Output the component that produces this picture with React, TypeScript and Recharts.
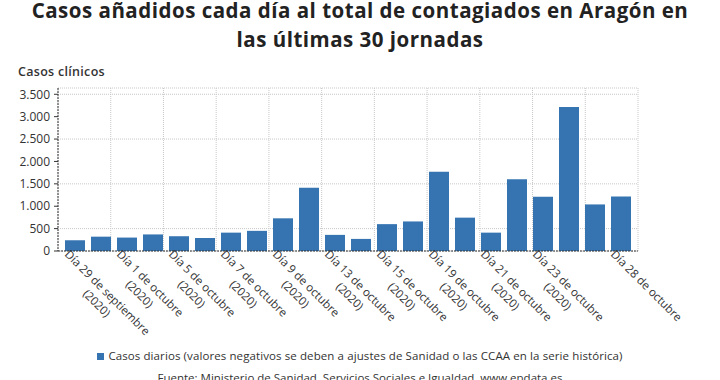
import { Bar, BarChart, CartesianGrid, XAxis, YAxis } from 'recharts'

const dias = [
  'Día 29 de septiembre',
  'Día 30 de septiembre',
  'Día 1 de octubre',
  'Día 2 de octubre',
  'Día 5 de octubre',
  'Día 6 de octubre',
  'Día 7 de octubre',
  'Día 8 de octubre',
  'Día 9 de octubre',
  'Día 12 de octubre',
  'Día 13 de octubre',
  'Día 14 de octubre',
  'Día 15 de octubre',
  'Día 16 de octubre',
  'Día 19 de octubre',
  'Día 20 de octubre',
  'Día 21 de octubre',
  'Día 22 de octubre',
  'Día 23 de octubre',
  'Día 26 de octubre',
  'Día 27 de octubre',
  'Día 28 de octubre',
]
const casos = [240, 320, 300, 370, 330, 290, 410, 450, 730, 1410, 360, 270, 600, 660, 1770, 745, 410, 1600, 1210, 3215, 1040, 1215]
const diasConEtiqueta = [0, 2, 4, 6, 8, 10, 12, 14, 16, 18, 21]
const anio = '(2020)'
const ticksY = [0, 500, 1000, 1500, 2000, 2500, 3000, 3500]

const datos = dias.map((dia, i) => ({ dia, casos: casos[i] }))

const AZUL = '#3574B1'
const TEXTO = '#333333'
const FUENTE = '"Open Sans", sans-serif'

let ctx: CanvasRenderingContext2D | null = null
function medir(texto: string) {
  if (!ctx) ctx = document.createElement('canvas').getContext('2d')
  if (!ctx) return texto.length * 6
  ctx.font = `11.5px "Open Sans"`
  return ctx.measureText(texto).width
}

const miles = (v: number) => String(v).replace(/\B(?=(\d{3})+(?!\d))/g, '.')

function EtiquetaDia(props: any) {
  const { x, y, payload, index } = props
  if (!diasConEtiqueta.includes(index)) return <g />
  const linea1 = String(payload.value)
  const linea2 = index === dias.length - 1 ? '' : anio
  const w = medir(linea1)
  return (
    <g transform={`translate(${x - 11},${y - 4}) rotate(45)`}>
      <text fill={TEXTO} fontFamily={FUENTE} fontSize={11.5} textAnchor="middle">
        <tspan x={w / 2} dy={0}>
          {linea1}
        </tspan>
        {linea2 && (
          <tspan x={w / 2} dy={15}>
            {linea2}
          </tspan>
        )}
      </text>
    </g>
  )
}

const estiloTitulo = {
  position: 'absolute' as const,
  left: 0,
  width: 720,
  textAlign: 'center' as const,
  fontWeight: 700,
  fontSize: 20.5,
  lineHeight: '18px',
  color: '#222',
  letterSpacing: 0.5,
  whiteSpace: 'nowrap' as const,
}

export default function App() {
  return (
    <div style={{ position: 'absolute', left: 0, top: 0, width: 720, height: 380, background: '#fff', overflow: 'hidden', fontFamily: FUENTE, color: TEXTO }}>
      <div style={{ ...estiloTitulo, top: 1 }}>Casos añadidos cada día al total de contagiados en Aragón en</div>
      <div style={{ ...estiloTitulo, top: 30 }}>las últimas 30 jornadas</div>
      <div style={{ position: 'absolute', top: 64.4, left: 18, fontSize: 12.5, lineHeight: '16px', fontWeight: 600, letterSpacing: 0.3 }}>Casos clínicos</div>

      <BarChart width={720} height={380} data={datos} margin={{ top: 88, right: 82, left: 8, bottom: 0 }}>
        <CartesianGrid
          stroke="#c8c8c8"
          strokeDasharray="1 1"
          verticalCoordinatesGenerator={({ offset }: any) => {
            const n = Math.ceil(dias.length / 2)
            return Array.from({ length: n + 1 }, (_, i) => offset.left + (offset.width * i) / n)
          }}
        />
        <XAxis
          dataKey="dia"
          interval={0}
          height={129}
          padding={{ left: 4, right: 4 }}
          tickLine={false}
          axisLine={{ stroke: TEXTO, strokeDasharray: '2 1' }}
          tick={<EtiquetaDia />}
        />
        <YAxis
          width={50}
          domain={[0, 3640]}
          ticks={ticksY}
          tickSize={4}
          tickMargin={4}
          tickFormatter={(v) => miles(Number(v))}
          tick={{ fill: TEXTO, fontSize: 12, fontFamily: FUENTE }}
          tickLine={{ stroke: TEXTO }}
          axisLine={{ stroke: TEXTO, strokeDasharray: '2 1' }}
        />
        <Bar dataKey="casos" fill={AZUL} barSize={20} isAnimationActive={false} />
      </BarChart>

      <div style={{ position: 'absolute', top: 348, left: 0, width: 720, textAlign: 'center', fontSize: 11.5, letterSpacing: 0.1 }}>
        <span style={{ display: 'inline-block', width: 7, height: 7, background: AZUL, marginRight: 4 }} />
        Casos diarios (valores negativos se deben a ajustes de Sanidad o las CCAA en la serie histórica)
      </div>
      <div style={{ position: 'absolute', top: 370, left: 0, width: 720, textAlign: 'center', fontSize: 11.5 }}>
        Fuente: Ministerio de Sanidad, Servicios Sociales e Igualdad. www.epdata.es
      </div>
    </div>
  )
}
